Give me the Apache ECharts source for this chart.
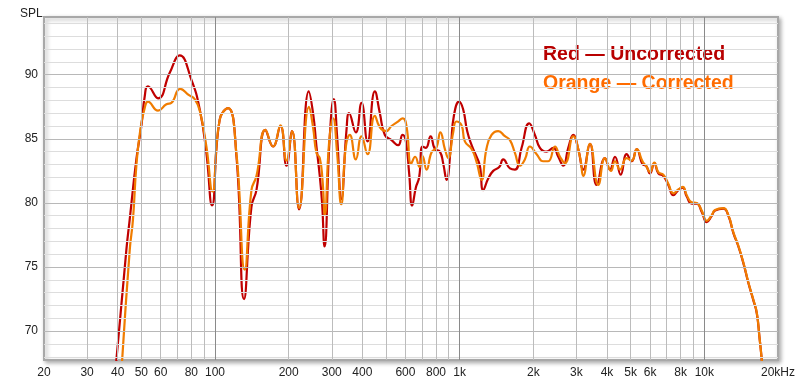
<!DOCTYPE html>
<html><head><meta charset="utf-8">
<script src="https://cdn.jsdelivr.net/npm/echarts@6/dist/echarts.min.js"></script>
<style>html,body{margin:0;padding:0;background:#fff}#c{width:800px;height:385px}</style>
</head><body><div id="c"></div>
<script>
// ---------- data (frequency in Hz, SPL in dB) ----------
const redFreq = [39.2, 43.4, 44.8, 47.7, 50.0, 51.6, 53.2, 58.5, 65.3, 71.7,
  80.1, 86.6, 92.2, 97.2, 104.5, 113, 122.4, 131.4, 140.9, 147.7,
  160.7, 172.7, 185.1, 195.9, 206.5, 220.6, 241.6, 251.6, 259.8, 268,
  273.9, 280.2, 294.5, 305.8, 315.5, 328.3, 344.7, 353.2, 376.3, 397,
  420.1, 450.1, 471.8, 494.6, 526.7, 560.5, 584.2, 602.6, 621.6, 639.4,
  662.1, 683, 705.2, 727.5, 760.3, 791.8, 829.8, 856, 883.9, 920.4,
  947, 995, 1033, 1073, 1119, 1172, 1209, 1248, 1308, 1371,
  1451, 1506, 1605, 1682, 1791, 1924, 2030, 2128, 2266, 2412,
  2529, 2650, 2778, 2912, 3052, 3200, 3408, 3630, 3925, 4114,
  4313, 4550, 4815, 5048, 5291, 5600, 5777, 5997, 6245, 6484,
  6797, 7125, 7468, 7828, 8159, 8472, 8881, 9309, 9759, 10228,
  10722, 11060, 11961, 12538, 13142, 13777, 14440, 15136, 15864, 16380,
  16785, 17172, 17400];
const redSpl = [67.0, 76.3, 78.7, 83.4, 86.0, 88.3, 89.1, 88.15, 90.15, 91.5,
  89.6, 87.3, 83.9, 79.8, 86.5, 87.4, 83.6, 72.5, 79.7, 81.0,
  85.7, 84.4, 86.0, 82.9, 85.6, 79.5, 88.7, 87.0, 84.4, 82.1,
  80.0, 76.6, 85.2, 88.1, 85.2, 80.3, 85.7, 87.0, 85.5, 87.8,
  84.8, 88.7, 87.0, 85.3, 84.9, 84.5, 85.3, 84.8, 82.3, 79.8,
  81.2, 82.0, 84.4, 84.3, 85.2, 84.2, 84.0, 83.1, 81.8, 84.4,
  86.8, 87.9, 87.3, 85.6, 84.5, 83.6, 82.9, 81.0, 81.9, 82.5,
  82.8, 83.4, 82.7, 82.6, 84.3, 86.2, 85.3, 84.3, 84.0, 84.3,
  83.6, 82.9, 84.3, 85.3, 84.2, 82.6, 84.6, 81.4, 83.5, 82.6,
  83.6, 82.2, 83.8, 83.25, 84.2, 83.0, 82.9, 82.3, 83.1, 82.3,
  82.1, 81.4, 80.6, 81.0, 81.2, 80.5, 79.95, 79.95, 79.3, 78.5,
  79.0, 79.4, 79.55, 79.0, 77.65, 76.6, 75.3, 73.75, 72.4, 71.4,
  69.6, 67.75, 66.5];
const orangeFreq = [41.5, 44.8, 46.2, 47.7, 49.5, 51.6, 53.2, 58.5, 63.3, 66.3,
  72.1, 78.3, 82.6, 86.6, 92.2, 97.6, 104.5, 113, 122.4, 132.3,
  140.9, 147.7, 160.7, 172.7, 185.1, 195.9, 206.5, 220.6, 242.3, 251.6,
  259.8, 268, 275, 281, 292.6, 303.8, 315.5, 328, 342.5, 355.5,
  376.3, 397, 420.1, 450.1, 471.8, 500.6, 526.7, 555, 585.8, 606.5,
  633.4, 657.7, 685.5, 705.2, 732.2, 767.5, 802.9, 834, 870, 897.5,
  940.6, 969.4, 1018, 1050, 1119, 1172, 1229, 1286, 1350, 1437,
  1531, 1605, 1682, 1763, 1848, 1937, 2063, 2195, 2301, 2452,
  2570, 2694, 2912, 3101, 3200, 3408, 3686, 3925, 4153, 4313,
  4520, 4815, 5048, 5291, 5600, 5777, 5997, 6245, 6484, 6797,
  7125, 7468, 7828, 8159, 8472, 8881, 9309, 9759, 10228, 10722,
  11060, 11961, 12538, 13142, 13777, 14440, 15136, 15864, 16380, 16785,
  17172, 17400];
const orangeSpl = [67.0, 76.3, 78.7, 82.9, 85.7, 87.4, 87.9, 87.2, 87.7, 87.8,
  88.9, 88.4, 88.1, 87.2, 84.4, 80.9, 86.5, 87.4, 83.8, 74.8,
  81.0, 82.1, 85.7, 84.4, 86.05, 83.3, 85.6, 79.6, 87.5, 85.9,
  83.9, 83.5, 81.8, 79.1, 84.7, 86.6, 83.9, 79.9, 84.4, 85.3,
  83.4, 85.2, 83.8, 86.8, 85.9, 85.6, 86.0, 86.3, 86.6, 85.95,
  83.05, 83.6, 82.8, 83.65, 82.6, 83.95, 84.3, 85.5, 84.2, 83.5,
  85.5, 86.35, 86.05, 84.8, 84.2, 83.2, 81.8, 84.2, 85.3, 85.6,
  85.2, 84.9, 83.9, 82.9, 83.4, 84.4, 83.8, 83.25, 83.25, 84.4,
  83.6, 83.1, 85.2, 83.6, 82.1, 84.6, 81.4, 83.5, 82.5, 83.25,
  82.6, 83.5, 83.3, 84.2, 83.2, 82.9, 82.4, 83.15, 82.4, 82.2,
  81.5, 80.75, 81.05, 81.25, 80.6, 80.05, 80.0, 79.4, 78.6, 79.05,
  79.45, 79.6, 79.05, 77.7, 76.65, 75.35, 73.8, 72.45, 71.45, 69.6,
  67.75, 66.5];

const seriesNames = ['Red — Uncorrected', 'Orange — Corrected'];
const xMinorLines = [30, 40, 50, 60, 70, 80, 90, 200, 300, 400, 500, 600, 700, 800, 900,
  2000, 3000, 4000, 5000, 6000, 7000, 8000, 9000];
const xDecadeLines = [100, 1000, 10000];
const xTickValues = [20, 30, 40, 50, 60, 80, 100, 200, 300, 400, 600, 800, 1000,
  2000, 3000, 4000, 5000, 6000, 8000, 10000, 20000];
const xTickText = ['20', '30', '40', '50', '60', '80', '100', '200', '300', '400', '600', '800', '1k',
  '2k', '3k', '4k', '5k', '6k', '8k', '10k', '20kHz'];
const yMinorLines = [68, 69, 71, 72, 73, 74, 76, 77, 78, 79, 81, 82, 83, 84, 86, 87, 88, 89, 91, 92, 93, 94];
const yTickValues = [70, 75, 80, 85, 90];

// ---------- build ----------
const FONT = '"Liberation Sans", Arial, sans-serif';
const zip = (a, b) => a.map((v, i) => [v, b[i]]);

const gridLines = [];
yMinorLines.forEach(v => gridLines.push({yAxis: v, lineStyle: {color: '#dddddd'}, label: {show: false}}));
yTickValues.forEach(v => gridLines.push({yAxis: v, lineStyle: {color: '#b8b8b8'},
  label: {show: true, position: 'start', formatter: String(v), distance: 6}}));
xMinorLines.forEach(v => gridLines.push({xAxis: v, lineStyle: {color: '#bcbcbc'}, label: {show: false}}));
xDecadeLines.forEach(v => gridLines.push({xAxis: v, lineStyle: {color: '#8a8a8a'}, label: {show: false}}));
xTickValues.forEach((v, i) => gridLines.push({xAxis: v, lineStyle: {color: 'rgba(0,0,0,0)'},
  label: {show: true, position: 'start', formatter: xTickText[i], distance: 7}}));

const chart = echarts.init(document.getElementById('c'), null, {renderer: 'canvas'});
chart.setOption({
  animation: false,
  backgroundColor: '#ffffff',
  textStyle: {fontFamily: FONT},
  title: {text: 'SPL', left: 15, top: 3, textStyle: {fontSize: 12, fontWeight: 'normal', color: '#222', fontFamily: FONT}},
  legend: {
    orient: 'vertical', left: 533, top: 40, itemWidth: 0, itemHeight: 0, itemGap: 9,
    icon: 'rect', selectedMode: false,
    textStyle: {fontSize: 19.5, fontWeight: 'bold', fontFamily: FONT},
    data: [
      {name: seriesNames[0], textStyle: {color: '#b80000'}},
      {name: seriesNames[1], textStyle: {color: '#ff6c00'}}
    ]
  },
  grid: {
    left: 44, right: 22, top: 17, bottom: 25, show: true,
    backgroundColor: '#ffffff', borderColor: '#a8a8a8', borderWidth: 2,
    shadowColor: 'rgba(0,0,0,0.3)', shadowBlur: 4, shadowOffsetX: 2, shadowOffsetY: 2
  },
  xAxis: {
    type: 'log', logBase: 10, min: 20, max: 20000,
    axisLine: {show: false}, axisTick: {show: false}, axisLabel: {show: false}, splitLine: {show: false}
  },
  yAxis: {
    type: 'value', min: 67.75, max: 94.5,
    axisLine: {show: false}, axisTick: {show: false}, axisLabel: {show: false}, splitLine: {show: false}
  },
  series: [
    {
      name: 'grid', type: 'line', data: [], z: 1, silent: true,
      markLine: {
        silent: true, symbol: ['none', 'none'], animation: false,
        lineStyle: {type: 'solid', width: 1},
        label: {color: '#222', fontSize: 12, fontFamily: FONT},
        emphasis: {disabled: true},
        data: gridLines
      }
    },
    {
      name: seriesNames[0], type: 'line', z: 3, showSymbol: false, smooth: 0.5,
      lineStyle: {width: 2.2, color: '#c00000'}, itemStyle: {color: '#c00000'},
      data: zip(redFreq, redSpl)
    },
    {
      name: seriesNames[1], type: 'line', z: 4, showSymbol: false, smooth: 0.5,
      lineStyle: {width: 2.2, color: '#f07c00'}, itemStyle: {color: '#f07c00'},
      data: zip(orangeFreq, orangeSpl)
    }
  ]
});
</script></body></html>
